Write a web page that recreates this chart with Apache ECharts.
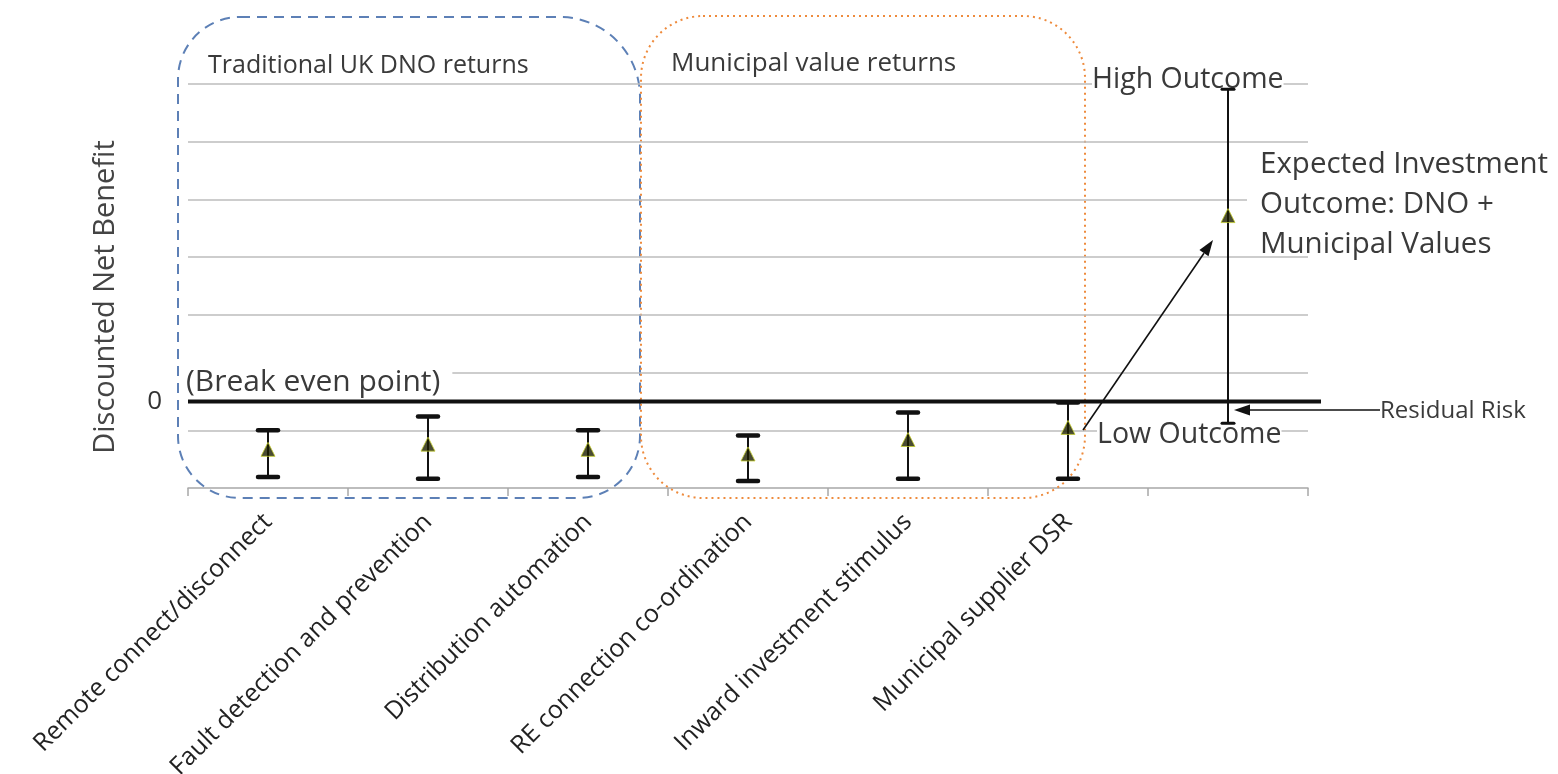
<!DOCTYPE html>
<html><head><meta charset="utf-8">
<script src="https://cdn.jsdelivr.net/npm/echarts/dist/echarts.min.js"></script>
<style>html,body{margin:0;padding:0;background:#fff}#c{width:1558px;height:774px}</style>
</head><body><div id="c"></div>
<script>
// ---- data ----
const categories = ['Remote connect/disconnect', 'Fault detection and prevention', 'Distribution automation',
  'RE connection co-ordination', 'Inward investment stimulus', 'Municipal supplier DSR', ''];
const lowOutcome = [-1.31, -1.34, -1.31, -1.38, -1.34, -1.34, -0.38];
const highOutcome = [-0.50, -0.26, -0.50, -0.59, -0.19, -0.02, 5.41];
const expectedOutcome = [-0.83, -0.74, -0.83, -0.91, -0.66, -0.45, 3.22];
const gridLevels = [-0.5, 0.5, 1.5, 2.5, 3.5, 4.5, 5.5];
const breakEven = 0;
const yMin = -1.5, yMax = 5.5;

const chart = echarts.init(document.getElementById('c'), null, {renderer: 'canvas'});
const FONT = 'Open Sans';
const TXT = '#3a3a3a';

function arrow(x1, y1, x2, y2, head, w) {
  const a = Math.atan2(y2 - y1, x2 - x1);
  const bx = x2 - head * Math.cos(a), by = y2 - head * Math.sin(a);
  const px = -Math.sin(a) * w / 2, py = Math.cos(a) * w / 2;
  return [
    {type: 'line', z: 20, shape: {x1, y1, x2: bx, y2: by}, style: {stroke: '#111', lineWidth: 1.6}},
    {type: 'polygon', z: 20, shape: {points: [[x2, y2], [bx + px, by + py], [bx - px, by - py]]}, style: {fill: '#111'}}
  ];
}
function label(text, x, y, size, extra) {
  return {type: 'text', z: 15, x: x, y: y,
    style: Object.assign({text: text, fontSize: size, fontFamily: FONT, fill: TXT, verticalAlign: 'middle', align: 'left'}, extra || {})};
}

const option = {
  backgroundColor: '#fff',
  animation: false,
  grid: {left: 188, right: 250, top: 84, bottom: 286, containLabel: false, outerBoundsMode: 'none'},
  xAxis: {
    type: 'category', data: categories, boundaryGap: true,
    axisLine: {onZero: false, lineStyle: {color: '#a8a8a8', width: 1.5}},
    axisTick: {show: true, length: 8, lineStyle: {color: '#a8a8a8', width: 1.5}},
    axisLabel: {rotate: 45, margin: 30, fontSize: 25, color: '#222', fontFamily: FONT, interval: 0},
    splitLine: {show: false}
  },
  yAxis: {
    type: 'value', min: yMin, max: yMax, interval: 0.5,
    name: 'Discounted Net Benefit', nameLocation: 'middle', nameGap: 68,
    nameTextStyle: {fontSize: 29, color: '#444', fontFamily: FONT, padding: [0, 22, 0, 0]},
    axisLine: {show: false}, axisTick: {show: false}, splitLine: {show: false},
    axisLabel: {margin: 26, fontSize: 26, color: '#333', fontFamily: FONT, padding: [10, 0, 0, 0],
      formatter: v => (Math.abs(v - breakEven) < 1e-9 ? '0' : '')}
  },
  series: [
    {
      type: 'line', data: [], silent: true,
      markLine: {
        silent: true, symbol: ['none', 'none'], label: {show: false},
        lineStyle: {color: '#bdbdbd', width: 1.6, type: 'solid'},
        data: gridLevels.map(v => ({yAxis: v}))
      }
    },
    {
      type: 'custom', z: 16,
      data: categories.map((c, i) => [i, lowOutcome[i], highOutcome[i]]),
      renderItem: function (params, api) {
        const x = api.value(0);
        const pLo = api.coord([x, api.value(1)]);
        const pHi = api.coord([x, api.value(2)]);
        const summary = params.dataIndex === categories.length - 1;
        const hw = summary ? 6 : 10;
        const cw = summary ? 3 : 4.5;
        return {
          type: 'group', children: [
            {type: 'line', shape: {x1: pLo[0], y1: pLo[1], x2: pHi[0], y2: pHi[1]}, style: {stroke: '#111', lineWidth: 2}},
            {type: 'line', shape: {x1: pLo[0] - hw, y1: pLo[1], x2: pLo[0] + hw, y2: pLo[1]}, style: {stroke: '#111', lineWidth: cw, lineCap: 'round'}},
            {type: 'line', shape: {x1: pHi[0] - hw, y1: pHi[1], x2: pHi[0] + hw, y2: pHi[1]}, style: {stroke: '#111', lineWidth: cw, lineCap: 'round'}}
          ]
        };
      }
    },
    {
      type: 'scatter', z: 17,
      data: categories.map((c, i) => [i, expectedOutcome[i]]),
      symbol: 'triangle', symbolSize: [14, 14],
      itemStyle: {color: '#1d1f00', borderColor: '#c3cc2e', borderWidth: 1}
    }
  ]
};
chart.setOption(option);

// annotation layer (zero line anchored to the break-even value through the axis scale)
const y0 = chart.convertToPixel({yAxisIndex: 0}, breakEven);
chart.setOption({
  graphic: [
    {type: 'line', z: 18, shape: {x1: 188, y1: y0, x2: 1321, y2: y0}, style: {stroke: '#111', lineWidth: 4}},
    {type: 'rect', z: 1, shape: {x: 178, y: 17, width: 462, height: 481, r: [62, 80, 62, 62]},
      style: {fill: 'none', stroke: '#5d80b6', lineWidth: 2, lineDash: [10, 7]}},
    {type: 'rect', z: 1, shape: {x: 641, y: 16, width: 444, height: 482, r: 62},
      style: {fill: 'none', stroke: '#ee8b3d', lineWidth: 2, lineDash: [2, 4]}},
    label('Traditional UK DNO returns', 208, 66, 25),
    label('Municipal value returns', 671, 64, 26),
    label('(Break even point)', 186, 382, 30, {backgroundColor: '#fff', padding: [0, 12, 0, 0], lineHeight: 28}),
    label('High Outcome', 1092, 80, 28.5, {backgroundColor: '#fff'}),
    label('Low Outcome', 1097, 435, 28.5, {backgroundColor: '#fff'}),
    {type: 'rect', z: 14, shape: {x: 1247, y: 190, width: 70, height: 24}, style: {fill: '#fff'}},
    label('Expected Investment\nOutcome: DNO +\nMunicipal Values', 1260, 205, 29.5, {lineHeight: 40}),
    label('Residual Risk', 1380, 411, 24),
    ...arrow(1083, 430, 1213, 240, 16, 11),
    ...arrow(1380, 410, 1234, 410, 16, 11)
  ]
});
</script>
</body></html>
